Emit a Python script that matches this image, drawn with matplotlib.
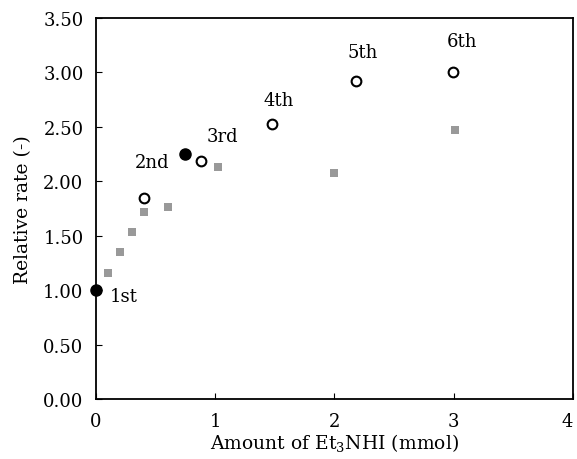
import numpy as np
import matplotlib
matplotlib.use('Agg')
import matplotlib.pyplot as plt

plt.rcParams['font.family'] = 'DejaVu Serif'
plt.rcParams['mathtext.fontset'] = 'dejavuserif'

# filled circles (start points)
fill_x = [0.0, 0.75]
fill_y = [1.00, 2.25]
# open circles (runs)
open_x = [0.40, 0.88, 1.48, 2.18, 2.99]
open_y = [1.85, 2.19, 2.53, 2.92, 3.00]
# gray squares
sq_x = [0.10, 0.20, 0.30, 0.40, 0.60, 1.02, 2.00, 3.01]
sq_y = [1.16, 1.35, 1.53, 1.72, 1.76, 2.13, 2.08, 2.47]

run_labels = ['1st', '2nd', '3rd', '4th', '5th', '6th']
label_x = [0.23, 0.47, 1.06, 1.53, 2.24, 3.07]
label_y = [0.95, 2.18, 2.42, 2.75, 3.19, 3.29]

fig = plt.figure(figsize=(5.77, 4.60), dpi=100)
ax = fig.add_axes([0.1664, 0.1304, 0.8266, 0.8283])

ax.plot(sq_x, sq_y, 's', color='#999999', markersize=6, markeredgewidth=0)
ax.plot(open_x, open_y, 'o', markerfacecolor='white', markeredgecolor='black',
        markersize=7, markeredgewidth=1.5)
ax.plot(fill_x, fill_y, 'o', color='black', markersize=8, clip_on=False, zorder=5)

for t, x, y in zip(run_labels, label_x, label_y):
    ax.text(x, y, t, fontsize=13, ha='center', va='center')

ax.set_xlim(0, 4)
ax.set_ylim(0, 3.5)
ax.set_xticks([0, 1, 2, 3, 4])
ax.set_yticks(np.arange(0, 3.51, 0.5))
ax.set_yticklabels(['%.2f' % v for v in np.arange(0, 3.51, 0.5)])
ax.tick_params(direction='in', length=4, labelsize=13, pad=9)
ax.get_xticklabels()[-1].set_horizontalalignment('right')
for s in ax.spines.values():
    s.set_linewidth(1.3)

ax.set_xlabel('Amount of Et$_3$NHI (mmol)', fontsize=13.5, labelpad=1)
ax.set_ylabel('Relative rate (-)', fontsize=13.5, labelpad=8)

fig.savefig('out.png', dpi=100)
